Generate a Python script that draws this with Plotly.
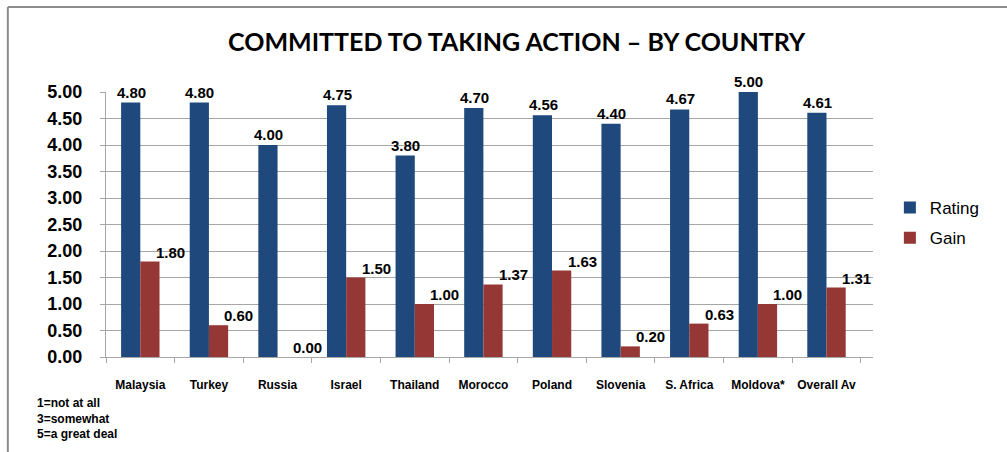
import plotly.graph_objects as go

# chart values
countries = ["Malaysia", "Turkey", "Russia", "Israel", "Thailand", "Morocco",
             "Poland", "Slovenia", "S. Africa", "Moldova*", "Overall Av"]
rating = [4.80, 4.80, 4.00, 4.75, 3.80, 4.70, 4.56, 4.40, 4.67, 5.00, 4.61]
gain = [1.80, 0.60, 0.00, 1.50, 1.00, 1.37, 1.63, 0.20, 0.63, 1.00, 1.31]
footnote = ["1=not at all", "3=somewhat", "5=a great deal"]

BLUE = "#1f497d"
RED = "#953735"
GRID = "#a6a6a6"
FONT = "Liberation Sans"

fig = go.Figure()
fig.add_trace(go.Bar(x=countries, y=rating, name="Rating", marker_color=BLUE,
                     marker_line_width=0, legendgroup="r"))
fig.add_trace(go.Bar(x=countries, y=gain, name="Gain", marker_color=RED,
                     marker_line_width=0, legendgroup="g"))

# value labels (Excel put them slightly offset)
for c, v in zip(countries, rating):
    fig.add_annotation(x=c, y=v, text=f"{v:.2f}", showarrow=False,
                       xshift=-9, yshift=0, yanchor="bottom",
                       font=dict(family=FONT, size=15, color="black", weight="bold"))
for c, v in zip(countries, gain):
    fig.add_annotation(x=c, y=v, text=f"{v:.2f}", showarrow=False,
                       xshift=30, yshift=-1, yanchor="bottom",
                       font=dict(family=FONT, size=15, color="black", weight="bold"))

fig.add_annotation(xref="paper", yref="paper", x=-0.093, y=-0.14,
                   xanchor="left", yanchor="top", align="left", showarrow=False,
                   text="<br>".join(footnote),
                   font=dict(family=FONT, size=12, color="black", weight="bold"))

# chart frame (top and left edges visible)
fig.add_shape(type="line", xref="paper", yref="paper",
              x0=-0.128, x1=1.2, y0=1.321, y1=1.321,
              line=dict(color="#8c8c8c", width=2))
fig.add_shape(type="line", xref="paper", yref="paper",
              x0=-0.128, x1=-0.128, y0=1.321, y1=-0.4,
              line=dict(color="#8c8c8c", width=2))

fig.update_layout(
    width=1007, height=452,
    margin=dict(l=106, r=134, t=92, b=95, autoexpand=False),
    paper_bgcolor="white", plot_bgcolor="white",
    barmode="group", bargap=0.44, bargroupgap=0,
    title=dict(text="COMMITTED TO TAKING ACTION – BY COUNTRY",
               x=0.513, xanchor="center", y=0.907, yanchor="middle",
               xref="container", yref="container",
               font=dict(family="Lato", size=25, color="black", weight="bold")),
    legend=dict(x=1.022, y=0.63, xanchor="left", yanchor="top",
                font=dict(family=FONT, size=17, color="black"),
                itemwidth=30, tracegroupgap=5, traceorder="grouped",
                bgcolor="rgba(0,0,0,0)"),
    showlegend=True,
)
fig.update_xaxes(showline=True, linecolor=GRID, linewidth=1, automargin=False,
                 ticks="outside", ticklen=5, tickcolor=GRID, tickson="boundaries",
                 tickangle=0, ticklabelstandoff=17,
                 tickfont=dict(family=FONT, size=12, color="black", weight="bold"))
fig.update_yaxes(range=[0, 5], dtick=0.5, tickformat=".2f", automargin=False,
                 showline=True, linecolor=GRID, linewidth=1,
                 ticks="outside", ticklen=5, tickcolor=GRID,
                 showgrid=True, gridcolor=GRID, gridwidth=1,
                 ticklabelstandoff=14, zeroline=False,
                 tickfont=dict(family=FONT, size=18, color="black", weight="bold"))

fig.write_html("out.html", config={"displayModeBar": False},
               post_script="document.body.style.margin='0';")
